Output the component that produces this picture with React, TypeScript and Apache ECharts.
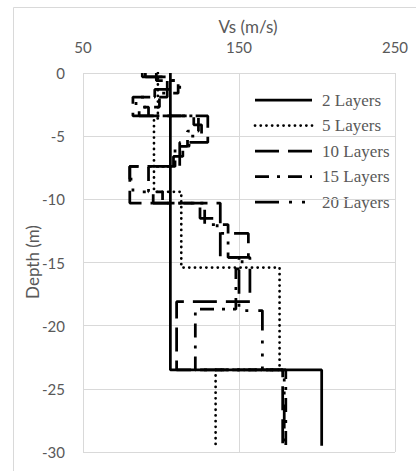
import React, { useEffect, useRef } from "react";
import * as echarts from "echarts";

// Layer boundaries (depth, m) and shear-wave velocity of each layer (m/s)
const depth2 = [0, 23.5, 29.5];
const vs2 = [106, 203];

const depth5 = [0, 3.6, 9.4, 15.4, 23.5, 29.5];
const vs5 = [98, 95.5, 113, 176, 135];

const depth10 = [0, 0.3, 1.9, 3.4, 5.5, 7.4, 10.3, 14.6, 18.1, 23.5, 29.5];
const vs10 = [88, 104, 82, 130, 112, 80, 138, 157, 110, 178];

const depth15 = [0, 0.6, 1.6, 2.7, 3.4, 4.6, 5.8, 7.4, 9.4, 10.3, 12.0, 14.6, 15.5, 18.7, 23.5, 29.5];
const vs15 = [97, 111, 99, 86, 124, 117, 109, 92, 101, 128, 143, 152, 148, 122, 180];

const depth20 = [0, 0.3, 0.8, 1.3, 1.9, 2.7, 3.4, 4.1, 5.0, 5.8, 6.6, 7.4, 8.4, 9.4, 10.3, 11.5, 12.7, 14.6, 18.8, 23.5, 29.5];
const vs20 = [90, 108, 112, 96, 84, 92, 121, 126, 118, 114, 108, 80, 82, 95, 125, 136, 156, 150, 165, 179];

const seriesNames = ["2 Layers", "5 Layers", "10 Layers", "15 Layers", "20 Layers"];

// Turn a layered profile into the corner points of a step line
function stepProfile(depths: number[], vs: number[]): number[][] {
  const pts: number[][] = [];
  vs.forEach((v, i) => {
    pts.push([v, -depths[i]]);
    pts.push([v, -depths[i + 1]]);
  });
  return pts;
}

const profiles = [
  { depths: depth2, vs: vs2, dash: null as number[] | null, cap: "butt" },
  { depths: depth5, vs: vs5, dash: [0.1, 5.6], cap: "round" },
  { depths: depth10, vs: vs10, dash: [24, 9], cap: "butt" },
  { depths: depth15, vs: vs15, dash: [14, 8, 3, 8], cap: "butt" },
  { depths: depth20, vs: vs20, dash: [24, 10, 3, 10, 3, 10], cap: "butt" },
];

export default function App() {
  const ref = useRef<HTMLDivElement>(null);

  useEffect(() => {
    if (!ref.current) return;
    const chart = echarts.init(ref.current, undefined, { renderer: "svg" });
    const grey = "#595959";
    const gridGrey = "#d9d9d9";

    // Key drawn inside the plot area: a line sample and its label per profile
    const keyItems: any[] = [];
    profiles.forEach((p, i) => {
      const y = 100 + i * 25.5;
      keyItems.push({
        type: "line",
        silent: true,
        shape: { x1: 255, y1: y, x2: 312, y2: y },
        style: {
          stroke: "#000000",
          lineWidth: 2.75,
          lineDash: p.dash || undefined,
          lineCap: p.cap,
        },
      });
      keyItems.push({
        type: "text",
        silent: true,
        x: 322,
        y,
        style: {
          text: seriesNames[i],
          fill: grey,
          font: "17px 'Liberation Serif'",
          textAlign: "left",
          textVerticalAlign: "middle",
        },
      });
    });

    chart.setOption({
      animation: false,
      backgroundColor: "#ffffff",
      grid: { left: 83, top: 73, width: 312, height: 379, containLabel: false },
      xAxis: {
        type: "value",
        position: "top",
        min: 50,
        max: 250,
        interval: 100,
        axisLine: { show: false },
        axisTick: { show: false },
        axisLabel: { color: grey, fontSize: 15, fontFamily: "Lato", margin: 19 },
        splitLine: { show: true, lineStyle: { color: gridGrey, width: 1 } },
      },
      yAxis: {
        type: "value",
        min: -30,
        max: 0,
        interval: 5,
        axisLine: { show: false },
        axisTick: { show: false },
        axisLabel: { color: grey, fontSize: 15, fontFamily: "Lato", margin: 18 },
        splitLine: { show: true, lineStyle: { color: gridGrey, width: 1 } },
      },
      graphic: [
        {
          type: "rect",
          silent: true,
          shape: { x: 13.5, y: 7.5, width: 420, height: 480 },
          style: { fill: "none", stroke: gridGrey, lineWidth: 1 },
        },
        {
          type: "text",
          x: 248,
          y: 26,
          style: {
            text: "Vs (m/s)",
            fill: grey,
            font: "17px Lato",
            textAlign: "center",
            textVerticalAlign: "middle",
          },
        },
        {
          type: "text",
          x: 32,
          y: 262,
          rotation: Math.PI / 2,
          style: {
            text: "Depth (m)",
            fill: grey,
            font: "17px Lato",
            textAlign: "center",
            textVerticalAlign: "middle",
          },
        },
        ...keyItems,
      ],
      series: profiles.map((p, i) => ({
        name: seriesNames[i],
        type: "line",
        data: stepProfile(p.depths, p.vs),
        showSymbol: false,
        symbol: "none",
        z: 10 - i,
        lineStyle: {
          color: "#000000",
          width: 2.75,
          type: p.dash || "solid",
          cap: p.cap,
        },
        itemStyle: { color: "#000000" },
      })),
    });
    return () => chart.dispose();
  }, []);

  return (
    <div
      ref={ref}
      style={{ position: "fixed", left: 0, top: 0, width: 416, height: 471, background: "#fff" }}
    />
  );
}
